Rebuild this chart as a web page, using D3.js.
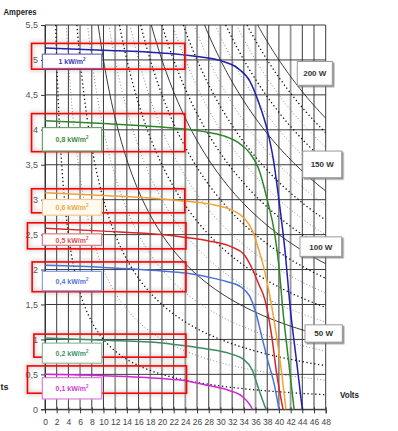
<!DOCTYPE html>
<html>
<head>
<meta charset="utf-8">
<script src="https://cdn.jsdelivr.net/npm/d3@7"></script>
<style>
  body { margin: 0; background: #fff; }
  text { font-family: "Liberation Sans", Arial, sans-serif; }
</style>
</head>
<body>
<div id="chart"></div>
<script>
// tick values and labels
let xTicks = [0, 2, 4, 6, 8, 10, 12, 14, 16, 18, 20, 22, 24, 26, 28, 30, 32, 34, 36, 38, 40, 42, 44, 46, 48];
let yTicks = [0, 0.5, 1, 1.5, 2, 2.5, 3, 3.5, 4, 4.5, 5, 5.5];
let yTickLabels = ["0", "0,5", "1", "1,5", "2", "2,5", "3", "3,5", "4", "4,5", "5", "5,5"];

// irradiance series, [volts, amperes]
let irradianceLabels = ["1 kW/m", "0,8 kW/m", "0,6 kW/m", "0,5 kW/m", "0,4 kW/m", "0,2 kW/m", "0,1 kW/m"];
let curve1000 = [[0, 5.17], [10, 5.14], [20, 5.1], [26, 5.05], [30, 4.99], [33, 4.88], [35, 4.7], [36.5, 4.4], [38, 4.0], [39, 3.6], [40, 3.0], [41, 2.3], [42, 1.4], [43, 0.7], [44, 0]];
let curve800 = [[0, 4.13], [10, 4.09], [20, 4.04], [24, 4.01], [28, 3.96], [31, 3.9], [33, 3.82], [35, 3.67], [36.5, 3.45], [38, 3.0], [39.3, 2.5], [40, 2.05], [40.7, 1.4], [41.5, 0.8], [42.6, 0]];
let curve600 = [[0, 3.1], [10, 3.06], [20, 3.01], [24, 2.98], [28, 2.94], [32, 2.85], [34, 2.74], [35.5, 2.55], [36.5, 2.3], [37.5, 2.0], [38.5, 1.6], [39.5, 1.1], [40.5, 0.5], [41.2, 0]];
let curve500 = [[0, 2.59], [10, 2.55], [20, 2.5], [24, 2.46], [28, 2.41], [32, 2.32], [34, 2.22], [35.5, 2.0], [36.5, 1.8], [37.6, 1.57], [38.8, 1.03], [39.6, 0.52], [40.7, 0]];
let curve400 = [[0, 2.06], [10, 2.03], [20, 1.98], [24, 1.95], [28, 1.89], [31, 1.83], [33.5, 1.75], [35, 1.62], [36, 1.4], [37.1, 1.03], [38.1, 0.7], [39.3, 0.32], [40, 0]];
let curve200 = [[0, 1.02], [10, 0.99], [20, 0.95], [24, 0.91], [28, 0.86], [31.5, 0.8], [34, 0.71], [35.4, 0.57], [36.3, 0.35], [37, 0.18], [37.8, 0]];
let curve100 = [[0, 0.5], [10, 0.48], [20, 0.44], [24, 0.41], [28, 0.34], [31.5, 0.27], [33.8, 0.18], [35, 0.07], [35.5, 0]];
let curves = [curve1000, curve800, curve600, curve500, curve400, curve200, curve100];

// constant power lines (watts)
let powerLevels = [10, 20, 30, 40, 50, 60, 70, 80, 90, 100, 110, 120, 130, 140, 150, 160, 170, 180, 190, 200];
let powerLabels = ["50 W", "100 W", "150 W", "200 W"];

let curveColors = ["#1f1fb0", "#2c862c", "#f2a232", "#d82424", "#4a72d6", "#3c8c62", "#d424d4"];
let boxStroke = ["#6a6ac4", "#6aa26a", "#f4c88e", "#e27a7a", "#86a2e6", "#8cbca0", "#dc7ddc"];
let boxText = ["#3838b8", "#3c8f3c", "#f2a642", "#e05050", "#4f76d8", "#3f9464", "#d33ad3"];

let width = 398, height = 431;
let margin = {top: 25, right: 72.3, bottom: 21.7, left: 45};

let x = d3.scaleLinear().domain([0, 48]).range([margin.left, width - margin.right]);
let y = d3.scaleLinear().domain([0, 5.5]).range([height - margin.bottom, margin.top]);

let svg = d3.select("#chart")
    .append("svg")
    .attr("width", width)
    .attr("height", height);

let defs = svg.append("defs");
defs.append("clipPath").attr("id", "plot")
    .append("rect")
    .attr("x", x(0)).attr("y", y(5.5))
    .attr("width", x(48) - x(0)).attr("height", y(0) - y(5.5));
defs.append("filter").attr("id", "haze")
    .attr("x", "-20%").attr("y", "-50%").attr("width", "140%").attr("height", "200%")
    .append("feGaussianBlur").attr("stdDeviation", 2);
defs.append("filter").attr("id", "shadow")
    .attr("x", "-20%").attr("y", "-30%").attr("width", "150%").attr("height", "180%")
    .append("feDropShadow")
    .attr("dx", 1.5).attr("dy", 1.5).attr("stdDeviation", 0.6)
    .attr("flood-color", "#777").attr("flood-opacity", 0.8);

// grid
svg.append("g").selectAll("line")
    .data(xTicks)
    .enter()
    .append("line")
    .attr("x1", d => x(d)).attr("x2", d => x(d))
    .attr("y1", y(5.5)).attr("y2", y(0))
    .attr("stroke", d => (d % 6 == 0 && d > 0 && d < 48) ? "#9a9a9a" : "#3a3a3a")
    .attr("stroke-width", d => (d % 6 == 0 && d > 0 && d < 48) ? 1.8 : 1);

svg.append("g").selectAll("line")
    .data(yTicks)
    .enter()
    .append("line")
    .attr("x1", x(0)).attr("x2", x(48))
    .attr("y1", d => y(d)).attr("y2", d => y(d))
    .attr("stroke", "#3a3a3a")
    .attr("stroke-width", 1);

// constant power hyperbolas
let powerLine = d3.line().x(d => x(d[0])).y(d => y(d[1]));
let hyper = svg.append("g").attr("clip-path", "url(#plot)");
powerLevels.forEach((p, i) => {
    let v0 = p / 5.5;
    let pts = d3.range(0, 61).map(k => {
        let v = v0 * Math.pow(48 / v0, k / 60);
        return [v, p / v];
    });
    let path = hyper.append("path")
        .attr("d", powerLine(pts))
        .attr("fill", "none");
    if (p % 50 == 0) {
        path.attr("stroke", "#222").attr("stroke-width", 0.9);
    } else if (i % 2 == 0) {
        path.attr("stroke", "#111").attr("stroke-width", 1.3).attr("stroke-dasharray", "1.3,2.6");
    } else {
        path.attr("stroke", "#8a8a8a").attr("stroke-width", 1).attr("stroke-dasharray", "1,2.2");
    }
});

// axes
let xAxis = d3.axisBottom(x).tickValues(xTicks).tickSize(4).tickFormat(d3.format("d"));
let yAxis = d3.axisLeft(y).tickValues(yTicks).tickSize(4).tickFormat((d, i) => yTickLabels[i]);

let gx = svg.append("g")
    .attr("transform", "translate(0," + y(0) + ")")
    .call(xAxis);
gx.select(".domain").attr("stroke", "#333");
gx.selectAll(".tick line").attr("stroke", "#333").attr("y1", -2);
gx.selectAll("text")
    .attr("y", 10)
    .attr("fill", "#444")
    .style("font-size", "8.5px");

let gy = svg.append("g")
    .attr("transform", "translate(" + x(0) + ",0)")
    .call(yAxis);
gy.select(".domain").attr("stroke", "#333");
gy.selectAll(".tick line").attr("stroke", "#333");
gy.selectAll("text")
    .attr("x", -7)
    .attr("fill", "#555")
    .style("font-size", "9px");

// I-V curves
let ivLine = d3.line()
    .x(d => x(d[0]))
    .y(d => y(d[1]))
    .curve(d3.curveMonotoneX);

svg.append("g").selectAll("path")
    .data(curves)
    .enter()
    .append("path")
    .attr("d", ivLine)
    .attr("fill", "none")
    .attr("stroke", (d, i) => curveColors[i])
    .attr("stroke-width", 1.5);

// highlight frames, in volts / amperes
let frames = [
    {x0: -2.3, x1: 23.9, top: 5.237, bottom: 4.868},
    {x0: -2.3, x1: 23.9, top: 4.232, bottom: 3.687},
    {x0: -2.3, x1: 23.9, top: 3.156, bottom: 2.812},
    {x0: -3.0, x1: 24.1, top: 2.669, bottom: 2.296},
    {x0: -2.2, x1: 24.1, top: 2.109, bottom: 1.683},
    {x0: -1.9, x1: 24.1, top: 1.076, bottom: 0.746},
    {x0: -3.0, x1: 24.2, top: 0.621, bottom: 0.230}
];
let labelBoxes = [
    {top: 5.083, bottom: 4.878},
    {top: 4.032, bottom: 3.696},
    {top: 3.003, bottom: 2.778},
    {top: 2.511, bottom: 2.347},
    {top: 1.974, bottom: 1.697},
    {top: 0.947, bottom: 0.660},
    {top: 0.453, bottom: 0.148}
];

let frameG = svg.append("g");
frames.forEach(f => {
    frameG.append("rect")
        .attr("x", x(f.x0)).attr("y", y(f.top))
        .attr("width", x(f.x1) - x(f.x0)).attr("height", y(f.bottom) - y(f.top))
        .attr("fill", "none")
        .attr("stroke", "#888")
        .attr("stroke-width", 4)
        .attr("opacity", 0.35)
        .attr("filter", "url(#haze)");
});

let labelG = svg.append("g");
labelBoxes.forEach((b, i) => {
    let x0 = x(-0.45), x1 = x(9.7);
    labelG.append("rect")
        .attr("x", x0).attr("y", y(b.top))
        .attr("width", x1 - x0).attr("height", y(b.bottom) - y(b.top))
        .attr("fill", i == 2 ? "#fffaf0" : "#fff")
        .attr("stroke", boxStroke[i])
        .attr("stroke-width", 1.2);
    let t = labelG.append("text")
        .attr("x", (x0 + x1) / 2)
        .attr("y", (y(b.top) + y(b.bottom)) / 2 + 3)
        .attr("text-anchor", "middle")
        .attr("fill", boxText[i])
        .style("font-size", "7px")
        .style("font-weight", "bold");
    t.append("tspan").text(irradianceLabels[i]);
    t.append("tspan").attr("dy", -3).style("font-size", "4.5px").text("2");
});

frames.forEach(f => {
    frameG.append("rect")
        .attr("x", x(f.x0)).attr("y", y(f.top))
        .attr("width", x(f.x1) - x(f.x0)).attr("height", y(f.bottom) - y(f.top))
        .attr("fill", "none")
        .attr("stroke", "#ff0000")
        .attr("stroke-width", 1.6);
});

// power labels
let powerBoxes = [
    {x0: 44.46, x1: 50.84, top: 1.209, bottom: 0.961},
    {x0: 43.6, x1: 50.74, top: 2.468, bottom: 2.189},
    {x0: 44.07, x1: 50.74, top: 3.696, bottom: 3.314},
    {x0: 43.14, x1: 49.13, top: 4.978, bottom: 4.638}
];
let pg = svg.append("g");
powerBoxes.forEach((b, i) => {
    pg.append("rect")
        .attr("x", x(b.x0)).attr("y", y(b.top))
        .attr("width", x(b.x1) - x(b.x0)).attr("height", y(b.bottom) - y(b.top))
        .attr("fill", "#fff")
        .attr("stroke", "#9a9a9a")
        .attr("stroke-width", 1)
        .attr("filter", "url(#shadow)");
    pg.append("text")
        .attr("x", (x(b.x0) + x(b.x1)) / 2)
        .attr("y", (y(b.top) + y(b.bottom)) / 2 + 3)
        .attr("text-anchor", "middle")
        .attr("fill", "#333")
        .style("font-size", "8px")
        .style("font-weight", "bold")
        .text(powerLabels[i]);
});

// axis titles
svg.append("text")
    .attr("x", 3.5).attr("y", 15)
    .attr("fill", "#222")
    .attr("textLength", 33).attr("lengthAdjust", "spacingAndGlyphs")
    .style("font-size", "9px").style("font-weight", "bold")
    .text("Amperes");

svg.append("text")
    .attr("x", 340).attr("y", 398)
    .attr("fill", "#222")
    .attr("textLength", 19).attr("lengthAdjust", "spacingAndGlyphs")
    .style("font-size", "9px").style("font-weight", "bold")
    .text("Volts");

// stray fragment at the left edge, as in the source image
svg.append("text")
    .attr("x", 0.5).attr("y", 390)
    .attr("fill", "#222")
    .style("font-size", "9px").style("font-weight", "bold")
    .text("ts");
</script>
</body>
</html>
